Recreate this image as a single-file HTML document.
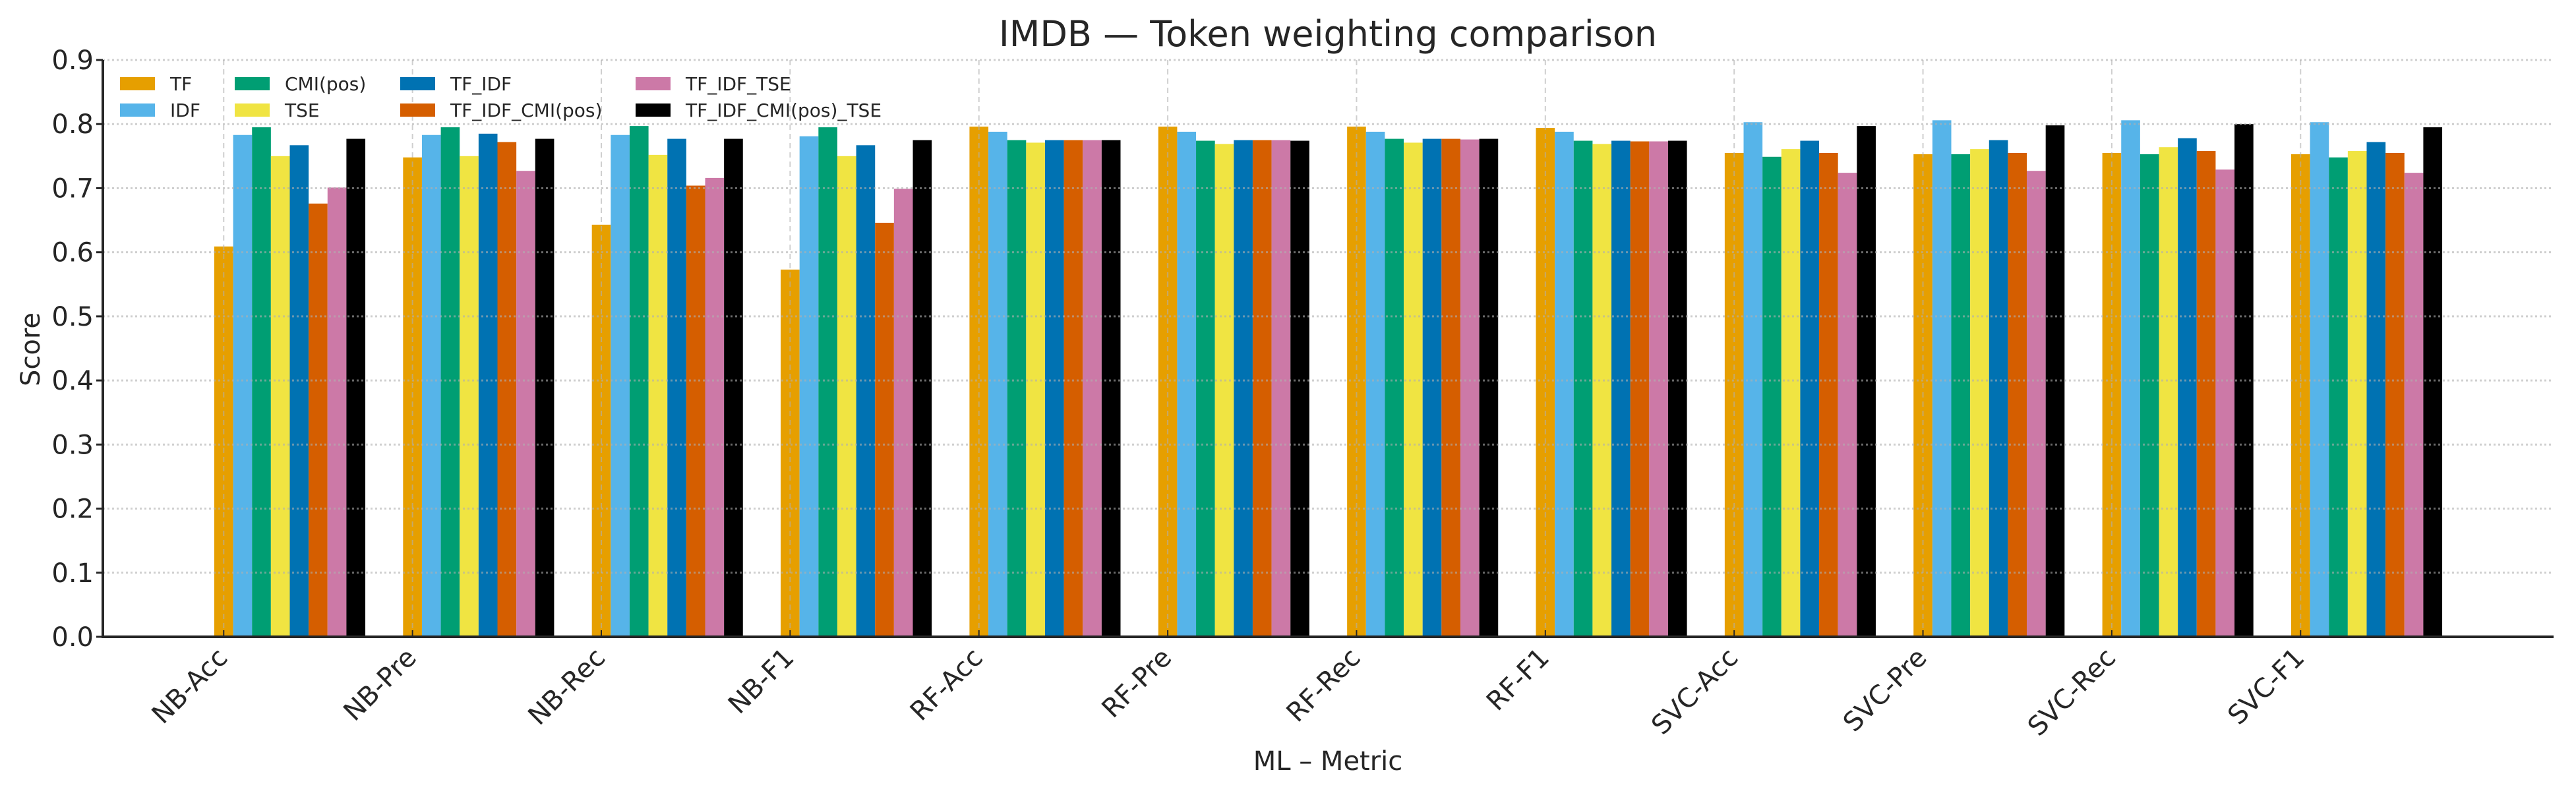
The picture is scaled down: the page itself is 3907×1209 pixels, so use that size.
<!DOCTYPE html>
<html><head><meta charset="utf-8"><style>
html,body{margin:0;padding:0;background:#fff}
svg{display:block;font-family:"DejaVu Sans","Liberation Sans",sans-serif}
</style></head><body>
<svg id="chart" width="3907" height="1209" viewBox="0 0 3907 1209" xmlns="http://www.w3.org/2000/svg">
<rect width="3907" height="1209" fill="#fff"/>
<text x="2014" y="70" font-size="54" text-anchor="middle" fill="#262626">IMDB — Token weighting comparison</text>
<text x="2014" y="1168" font-size="40" text-anchor="middle" fill="#262626">ML – Metric</text>
<text transform="translate(60,530) rotate(-90)" font-size="40" text-anchor="middle" fill="#262626">Score</text>
<g id="bars"></g>
<g id="grid"></g>
<g id="axes"></g>
<g id="legend"></g>
</svg>
<script>
const categories = ["NB-Acc","NB-Pre","NB-Rec","NB-F1","RF-Acc","RF-Pre","RF-Rec","RF-F1","SVC-Acc","SVC-Pre","SVC-Rec","SVC-F1"];
const seriesNames = ["TF","IDF","CMI(pos)","TSE","TF_IDF","TF_IDF_CMI(pos)","TF_IDF_TSE","TF_IDF_CMI(pos)_TSE"];
const seriesColors = ["#E69F00","#56B4E9","#009E73","#F0E442","#0072B2","#D55E00","#CC79A7","#000000"];
const valuesTF = [0.609,0.748,0.643,0.573,0.796,0.796,0.796,0.794,0.755,0.753,0.755,0.753];
const valuesIDF = [0.783,0.783,0.783,0.781,0.788,0.788,0.788,0.788,0.803,0.806,0.806,0.803];
const valuesCMI = [0.795,0.795,0.797,0.795,0.775,0.774,0.777,0.774,0.749,0.753,0.753,0.748];
const valuesTSE = [0.750,0.750,0.752,0.750,0.771,0.769,0.771,0.769,0.761,0.761,0.764,0.758];
const valuesTFIDF = [0.767,0.785,0.777,0.767,0.775,0.775,0.777,0.774,0.774,0.775,0.778,0.772];
const valuesTFIDFCMI = [0.676,0.772,0.704,0.646,0.775,0.775,0.777,0.773,0.755,0.755,0.758,0.755];
const valuesTFIDFTSE = [0.701,0.727,0.716,0.699,0.775,0.775,0.776,0.773,0.724,0.727,0.729,0.724];
const valuesAll = [0.777,0.777,0.777,0.775,0.775,0.774,0.777,0.774,0.797,0.798,0.800,0.795];
const yTicks = ["0.0","0.1","0.2","0.3","0.4","0.5","0.6","0.7","0.8","0.9"];

const series = [valuesTF,valuesIDF,valuesCMI,valuesTSE,valuesTFIDF,valuesTFIDFCMI,valuesTFIDFTSE,valuesAll];
const NS="http://www.w3.org/2000/svg";
const L=156,R=3873,T=91,B=966;
const xMin=-0.64,xMax=12.34,yMin=0,yMax=0.9,barW=0.1;
function xs(v){return L+(v-xMin)/(xMax-xMin)*(R-L);}
function ys(v){return B-(v-yMin)/(yMax-yMin)*(B-T);}
function mk(tag,attrs,parent){const e=document.createElementNS(NS,tag);for(const k in attrs)e.setAttribute(k,attrs[k]);parent.appendChild(e);return e;}
const gBars=document.getElementById('bars'),gGrid=document.getElementById('grid'),gAxes=document.getElementById('axes'),gLeg=document.getElementById('legend');

series.forEach((vals,s)=>{
  vals.forEach((v,i)=>{
    const cx=i+s*barW;
    const r=mk('rect',{x:xs(cx-barW/2),y:ys(v),width:xs(cx+barW/2)-xs(cx-barW/2),height:ys(0)-ys(v),fill:seriesColors[s]},gBars);
    
    
  });
});
yTicks.forEach(t=>{
  const y=ys(parseFloat(t));
  const g=mk('line',{x1:L,x2:R,y1:y,y2:y,stroke:'#b0b0b0','stroke-width':3,'stroke-dasharray':'3 4',opacity:0.6},gGrid);
  
  
  const tk=mk('line',{x1:L-10,x2:L,y1:y,y2:y,stroke:'#262626','stroke-width':3},gAxes);
  
  
  const tx=mk('text',{x:L-14,y:y+14,'font-size':40,'text-anchor':'end',fill:'#262626'},gAxes);
  tx.textContent=t;
  
  
});
categories.forEach((c,i)=>{
  const x=xs(i);
  const g=mk('line',{x1:x,x2:x,y1:T,y2:B,stroke:'#b0b0b0','stroke-width':2,'stroke-dasharray':'8 6',opacity:0.6},gGrid);
  
  
  const tk=mk('line',{x1:x,x2:x,y1:B-10,y2:B,stroke:'#262626','stroke-width':2},gAxes);
  
  
  const tx=mk('text',{x:0,y:0,'font-size':40,'text-anchor':'end',fill:'#262626',transform:`translate(${x+8},${B+34}) rotate(-45)`},gAxes);
  tx.textContent=c;
  
  
});
const sl=mk('line',{x1:L,x2:L,y1:T,y2:B,stroke:'#262626','stroke-width':4},gAxes);


const sb=mk('line',{x1:L-2,x2:R,y1:B,y2:B,stroke:'#262626','stroke-width':4},gAxes);



const colX=[182,356,607,964],rowY=[127,167];
seriesNames.forEach((n,s)=>{
  const col=Math.floor(s/2),row=s%2;
  const h=mk('rect',{x:colX[col],y:rowY[row]-10,width:53,height:20,fill:seriesColors[s]},gLeg);
  
  
  const t=mk('text',{x:colX[col]+76,y:rowY[row]+10,'font-size':28,fill:'#262626'},gLeg);
  t.textContent=n;
  
  
});
</script>
</body></html>
